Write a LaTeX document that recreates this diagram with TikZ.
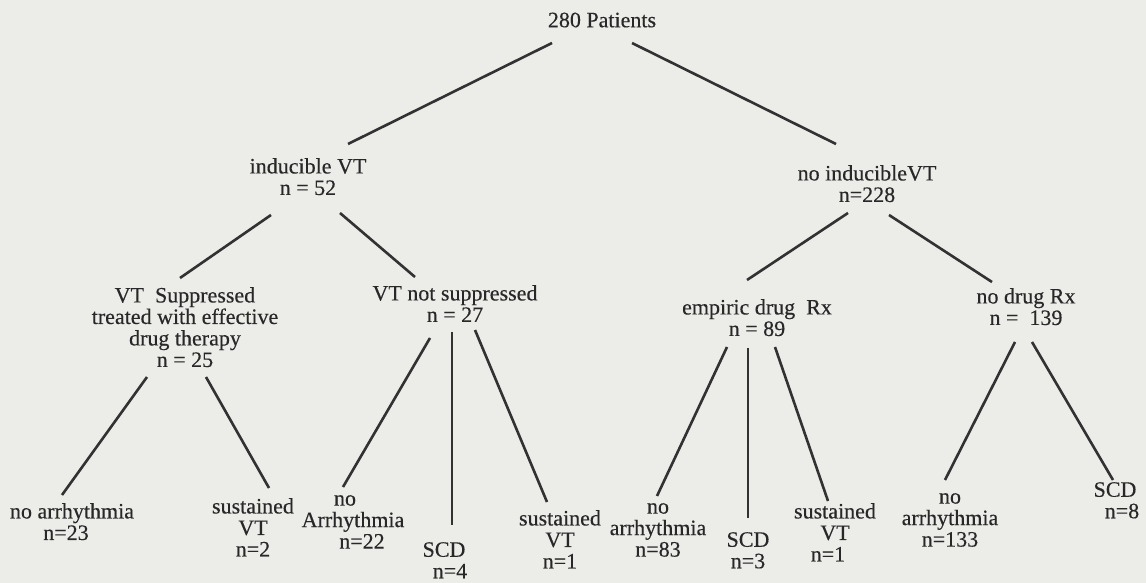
\documentclass[tikz,border=0pt]{standalone}
\usepackage{fontspec}
\setmainfont{Liberation Serif}
\newfontfamily\treefont{Liberation Serif}[FakeBold=0.3]
\definecolor{bgc}{RGB}{236,236,233}
\definecolor{ink}{RGB}{40,40,40}
\definecolor{wire}{RGB}{50,50,50}
\begin{document}
\begin{tikzpicture}[x=1pt,y=-1pt,
  lbl/.style={anchor=north,inner sep=0pt,align=center,text=ink,
    font=\treefont\fontsize{22}{21.5}\selectfont,execute at begin node=\strut},
  link/.style={draw=wire,line width=2.6pt}]
\fill[bgc] (0,0) rectangle (1146,583);
\useasboundingbox (0,0) rectangle (1146,583);

% level 0
\node[lbl] (root) at (602,12) {280 Patients};
% level 1
\node[lbl] (ind) at (308,158) {inducible VT\\n = 52};
\node[lbl] (noind) at (867,165) {no inducibleVT\\n=228};
% level 2
\node[lbl] (sup) at (185,287) {VT~ Suppressed\\treated with effective\\drug therapy\\n = 25};
\node[lbl] (notsup) at (455,285) {VT not suppressed\\n = 27};
\node[lbl] (emp) at (757,299) {empiric drug~ Rx\\n = 89};
\node[lbl] (nodrug) at (1026,288) {no drug Rx\\n =~ 139};
% leaves
\node[lbl] (l1) at (72,503) {no arrhythmia\\n=23\hspace*{12pt}};
\node[lbl] (l2) at (253,498) {sustained\\VT\\n=2};
\node[lbl] (l3) at (353,495) {no\hspace*{16pt}\\Arrhythmia\\\hspace*{18pt}n=22};
\node[lbl] (l4) at (444,542) {SCD\\\hspace*{12pt}n=4};
\node[lbl] (l5) at (560,510) {sustained\\VT\\n=1};
\node[lbl] (l6) at (658,503) {no\\arrhythmia\\n=83};
\node[lbl] (l7) at (748,532) {SCD\\n=3};
\node[lbl] (l8) at (835,503) {sustained\\\hspace*{0pt}VT\hspace*{14pt}\\n=1\hspace*{14pt}};
\node[lbl] (l9) at (950,493) {no\\arrhythmia\\n=133};
\node[lbl] (l10) at (1115,482) {SCD\\\hspace*{14pt}n=8};

% connectors
\draw[link] ([shift={(-50,31)}]root.north) -- ([shift={(40,-14)}]ind.north);
\draw[link] ([shift={(30,31)}]root.north) -- ([shift={(-31,-21)}]noind.north);

\draw[link] ([shift={(-37,57)}]ind.north) -- ([shift={(-5,-9)}]sup.north);
\draw[link] ([shift={(32,55)}]ind.north) -- ([shift={(-40,-8)}]notsup.north);

\draw[link] ([shift={(-19,48)}]noind.north) -- ([shift={(-10,-19)}]emp.north);
\draw[link] ([shift={(22,50)}]noind.north) -- ([shift={(-34,-6)}]nodrug.north);

\draw[link] ([shift={(-38,90)}]sup.north) -- ([shift={(-10,-8)}]l1.north);
\draw[link] ([shift={(21,90)}]sup.north) -- ([shift={(16,-10)}]l2.north);

\draw[link] ([shift={(-25,53)}]notsup.north) -- ([shift={(-10,-8)}]l3.north);
\draw[link] ([shift={(-3,47)}]notsup.north) -- ([shift={(8,-17)}]l4.north);
\draw[link] ([shift={(20,45)}]notsup.north) -- ([shift={(-13,-8)}]l5.north);

\draw[link] ([shift={(-30,48)}]emp.north) -- ([shift={(-1,-7)}]l6.north);
\draw[link] ([shift={(-9,49)}]emp.north) -- ([shift={(0,-14)}]l7.north);
\draw[link] ([shift={(18,48)}]emp.north) -- ([shift={(-7,-2)}]l8.north);

\draw[link] ([shift={(-11,54)}]nodrug.north) -- ([shift={(-5,-13)}]l9.north);
\draw[link] ([shift={(6,54)}]nodrug.north) -- ([shift={(-2,-2)}]l10.north);
\end{tikzpicture}
\end{document}
